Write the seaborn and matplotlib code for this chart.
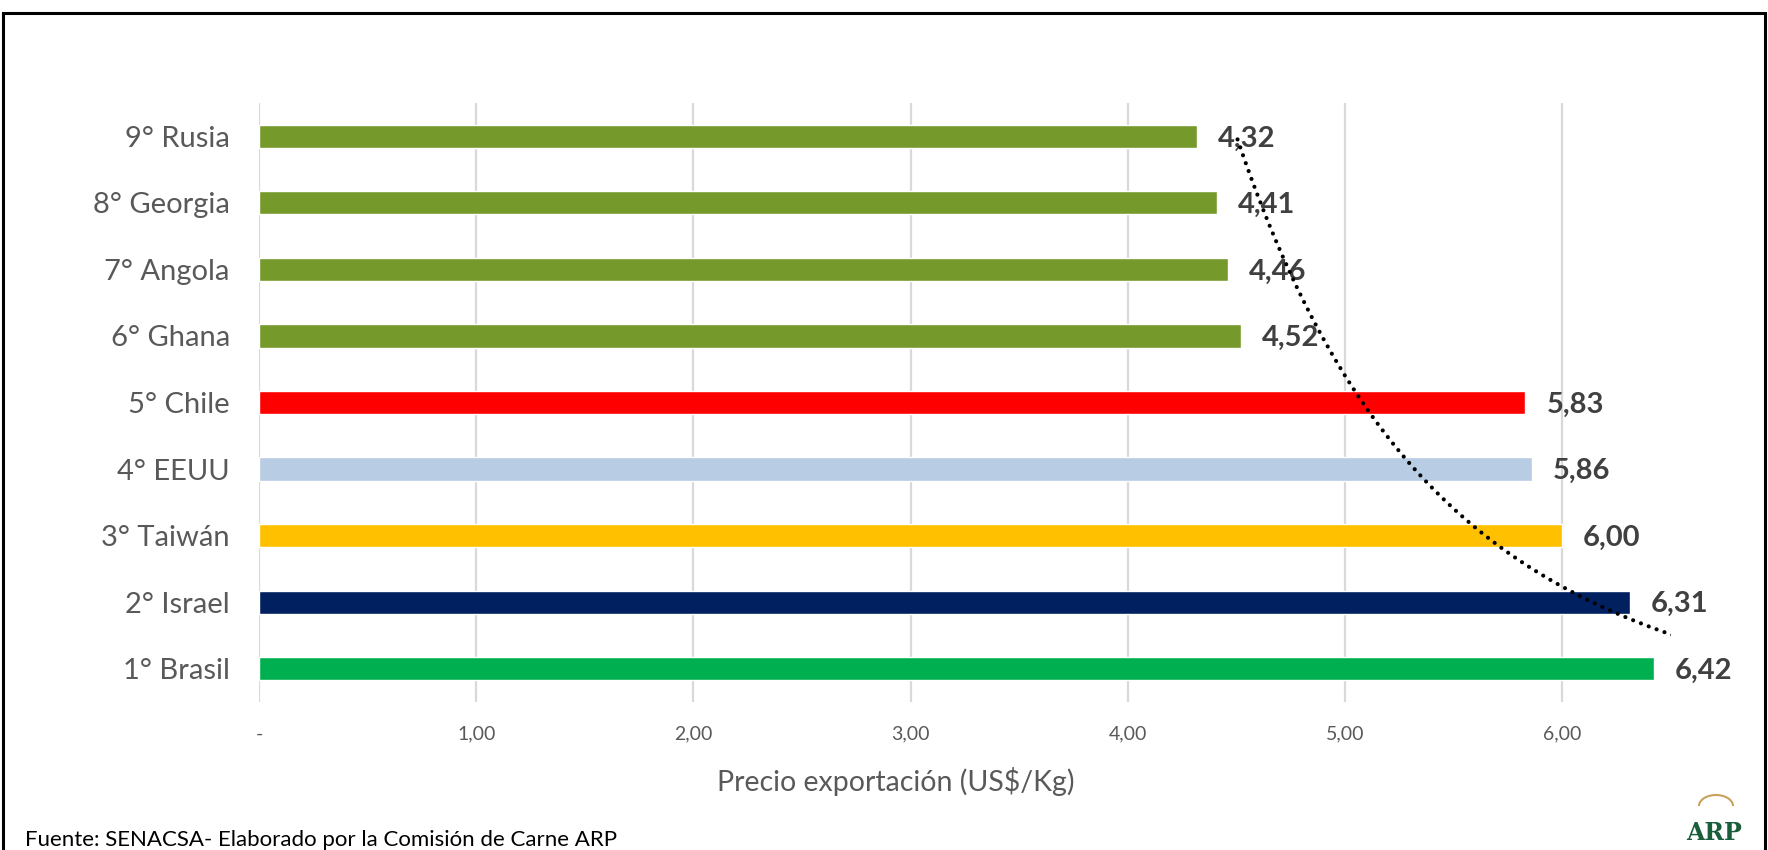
import numpy as np
import pandas as pd
import matplotlib
matplotlib.use("Agg")
import matplotlib.pyplot as plt
import seaborn as sns
from matplotlib.patches import Rectangle, Arc
from matplotlib.ticker import FuncFormatter

# ---- data (top to bottom as shown) ----
categories = ["9° Rusia", "8° Georgia", "7° Angola", "6° Ghana", "5° Chile",
              "4° EEUU", "3° Taiwán", "2° Israel", "1° Brasil"]
values = [4.32, 4.41, 4.46, 4.52, 5.83, 5.86, 6.00, 6.31, 6.42]
bar_colors = ["#76992C", "#76992C", "#76992C", "#76992C", "#FF0000",
              "#B8CCE4", "#FFC000", "#002060", "#00B050"]
x_ticks = [0, 1, 2, 3, 4, 5, 6]
x_title = "Precio exportación (US$/Kg)"
source_text = "Fuente: SENACSA- Elaborado por la Comisión de Carne ARP"

df = pd.DataFrame({"pais": categories, "precio": values})

sns.set_theme(style="white")
plt.rcParams["font.family"] = ["Lato", "DejaVu Sans"]

W, H = 1768, 850
fig = plt.figure(figsize=(W / 100, H / 100), dpi=100)
ax = fig.add_axes([259 / W, 1 - 702 / H, (1671 - 259) / W, (702 - 103) / H])

sns.barplot(data=df, y="pais", x="precio", hue="pais", palette=bar_colors,
            orient="h", width=0.35, legend=False, ax=ax, saturation=1,
            zorder=2)

ax.set_xlim(0, 6.5)
ax.set_ylim(8.5, -0.5)
ax.set_xticks(x_ticks)
ax.xaxis.set_major_formatter(FuncFormatter(
    lambda v, p: "-" if abs(v) < 1e-9 else f"{v:.2f}".replace(".", ",")))
ax.grid(axis="x", color="#D9D9D9", linewidth=1.6, zorder=0)
ax.grid(axis="y", visible=False)
for s in ax.spines.values():
    s.set_visible(False)
ax.tick_params(axis="y", length=0, pad=21, labelsize=21, labelcolor="#595959")
ax.tick_params(axis="x", length=0, pad=17, labelsize=14, labelcolor="#595959")
ax.set_ylabel("")
ax.set_xlabel("")

# value labels
for i, v in enumerate(values):
    ax.annotate(f"{v:.2f}".replace(".", ","), xy=(v, i), xytext=(15, -1.5),
                textcoords="offset points", ha="left", va="center",
                fontsize=21, fontweight="bold", color="#404040", zorder=4)

# power trendline (Excel-style, category index 1 = bottom bar)
n = len(values)
idx = np.arange(n, 0, -1)  # Excel category index for each row
b, lna = np.polyfit(np.log(idx), np.log(values), 1)
xs_idx = np.linspace(1, n, 400)
trend = np.exp(lna) * xs_idx ** b
ypos = n - xs_idx  # seaborn row position
ax.plot(trend, ypos, color="black", linewidth=3.0,
        linestyle=(0, (0.01, 2.0)), dash_capstyle="round", zorder=5,
        clip_on=True)

# axis title and source
fig.text(896 / W, 1 - 781 / H, x_title, ha="center", va="center",
         fontsize=20.5, color="#595959")
fig.text(25 / W, 1 - 840 / H, source_text, ha="left", va="center",
         fontsize=16, color="#000000")

# outer frame
fig.add_artist(Rectangle((3 / W, -0.05), (1765 - 3) / W, 1.05 - 13 / H,
                         transform=fig.transFigure, fill=False,
                         edgecolor="black", linewidth=2.2))

# logo
fig.text(1714 / W, 1 - 833 / H, "ARP", ha="center", va="center",
         fontsize=17, fontweight="bold", color="#1B5E3B",
         family=["DejaVu Serif"])
fig.add_artist(Arc((1716 / W, 1 - 806 / H), 34 / W, 22 / H, theta1=0,
                   theta2=180, transform=fig.transFigure,
                   edgecolor="#C8A25A", linewidth=1.5))

fig.savefig("out.png", dpi=100)
